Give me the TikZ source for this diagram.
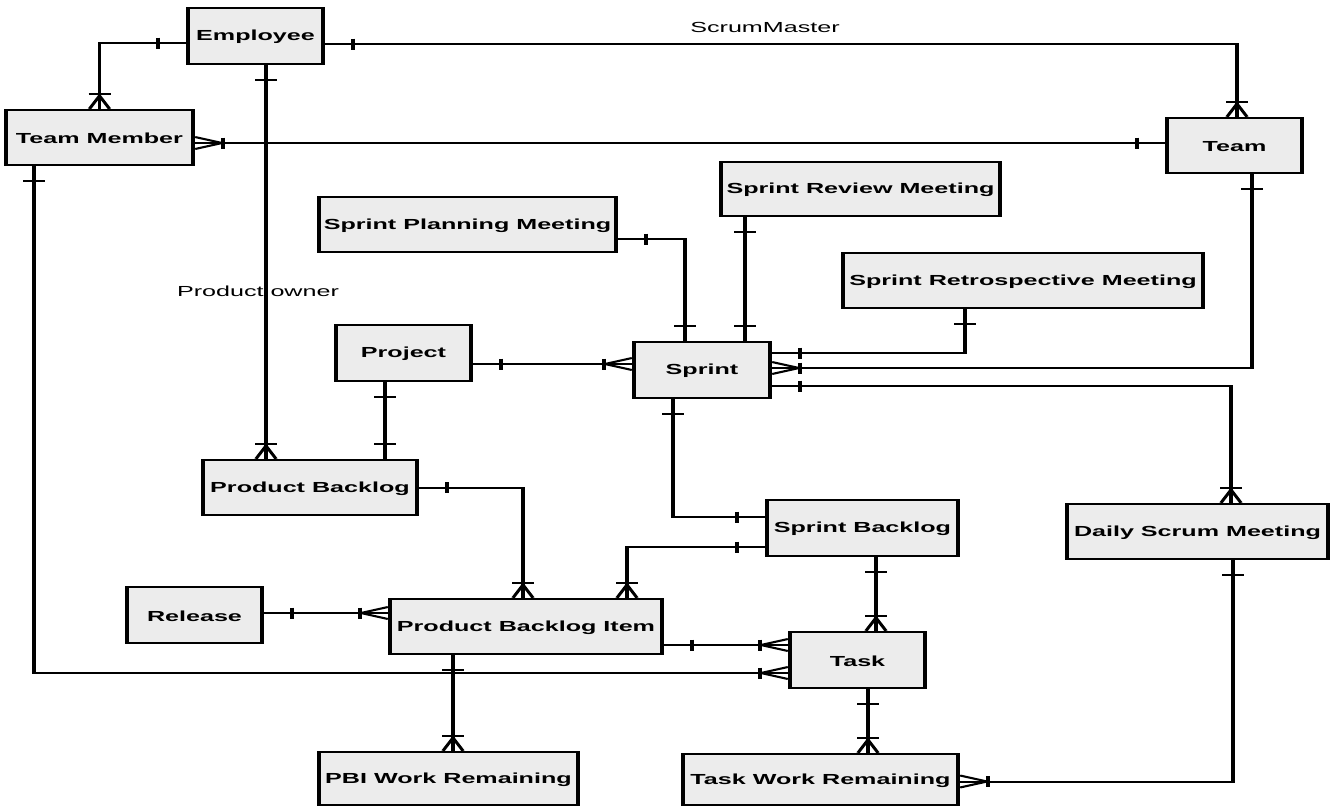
\documentclass[tikz,border=0pt]{standalone}
\usepackage{fontspec}
\setmainfont{Liberation Sans}
\usetikzlibrary{calc,fit}
\definecolor{boxfill}{RGB}{236,236,236}
\tikzset{
  ent/.style={draw=black, line width=2.4pt, fill=boxfill, inner sep=0pt},
  enttext/.style={inner sep=0pt, yshift=-1pt, font=\fontsize{14.6}{16}\selectfont\bfseries},
  conn/.style={line width=2pt},
  lbl/.style={font=\fontsize{14.6}{16}\selectfont, inner sep=0pt},
  mk/.style={line width=2pt},
  oneU/.pic={\draw[mk] (-11,-15) -- (11,-15);},
  oneD/.pic={\draw[mk] (-11,15) -- (11,15);},
  oneL/.pic={\draw[mk] (-28,-5.5) -- (-28,5.5);},
  oneR/.pic={\draw[mk] (28,-5.5) -- (28,5.5);},
  manyU/.pic={\draw[mk] (-10,0) -- (0,-13) -- (10,0); \draw[mk] (-11,-15) -- (11,-15);},
  manyD/.pic={\draw[mk] (-10,0) -- (0,13) -- (10,0); \draw[mk] (-11,15) -- (11,15);},
  manyL/.pic={\draw[mk] (0,-6) -- (-27,0) -- (0,6); \draw[mk] (-28,-5.5) -- (-28,5.5);},
  manyR/.pic={\draw[mk] (0,-6) -- (27,0) -- (0,6); \draw[mk] (28,-5.5) -- (28,5.5);}
}
\begin{document}
\begin{tikzpicture}[x=1pt,y=-1pt]
\fill[white] (0,0) rectangle (1330,807);
\useasboundingbox (0,0) rectangle (1330,807);
\begin{scope}[x=0.581395pt, transform canvas={xscale=1.72}]
  % entities
  \node[ent, fit={(188,8) (323,64)}, label={[enttext]center:Employee}] (emp) {};
  \node[ent, fit={(6,110) (193,165)}, label={[enttext]center:Team Member}] (tm) {};
  \node[ent, fit={(1167,118) (1302,173)}, label={[enttext]center:Team}] (team) {};
  \node[ent, fit={(721,162) (1000,216)}, label={[enttext]center:Sprint Review Meeting}] (srm) {};
  \node[ent, fit={(319,197) (616,252)}, label={[enttext]center:Sprint Planning Meeting}] (spm) {};
  \node[ent, fit={(843,253) (1203,308)}, label={[enttext]center:Sprint Retrospective Meeting}] (sretro) {};
  \node[ent, fit={(336,325) (471,381)}, label={[enttext]center:Project}] (proj) {};
  \node[ent, fit={(634,342) (770,398)}, label={[enttext]center:Sprint}] (spr) {};
  \node[ent, fit={(203,460) (417,515)}, label={[enttext]center:Product Backlog}] (pb) {};
  \node[ent, fit={(767,500) (958,556)}, label={[enttext]center:Sprint Backlog}] (sb) {};
  \node[ent, fit={(1067,504) (1328,559)}, label={[enttext]center:Daily Scrum Meeting}] (dsm) {};
  \node[ent, fit={(127,587) (262,643)}, label={[enttext]center:Release}] (rel) {};
  \node[ent, fit={(390,599) (662,654)}, label={[enttext]center:Product Backlog Item}] (pbi) {};
  \node[ent, fit={(790,632) (925,688)}, label={[enttext]center:Task}] (task) {};
  \node[ent, fit={(319,752) (578,805)}, label={[enttext]center:PBI Work Remaining}] (pbiwr) {};
  \node[ent, fit={(683,754) (958,805)}, label={[enttext]center:Task Work Remaining}] (twr) {};

  % labels
  \node[lbl] (smlbl) at (765,27) {ScrumMaster};
  \node[lbl] (polbl) at (258,291) {Product owner};

  % connectors
  % Employee - Team Member
  \draw[conn] ($(emp.west)+(0,7)$) -| (tm.north);
  \pic at ($(emp.west)+(0,7)$) {oneL};
  \pic at (tm.north) {manyU};
  % Employee - Team (ScrumMaster)
  \draw[conn] ($(emp.east)+(0,8)$) -| ($(team.north)+(2.5,0)$);
  \pic at ($(emp.east)+(0,8)$) {oneR};
  \pic at ($(team.north)+(2.5,0)$) {manyU};
  % Employee - Product Backlog (Product owner)
  \draw[conn] ($(emp.south)+(10.5,0)$) -- ($(pb.north)+(-44,0)$);
  \pic at ($(emp.south)+(10.5,0)$) {oneD};
  \pic at ($(pb.north)+(-44,0)$) {manyU};
  % Team Member - Team
  \draw[conn] ($(tm.east)+(0,5.5)$) -- ($(team.west)+(0,-2.5)$);
  \pic at ($(tm.east)+(0,5.5)$) {manyR};
  \pic at ($(team.west)+(0,-2.5)$) {oneL};
  % Team Member - Task
  \draw[conn] ($(tm.south)+(-65.5,0)$) |- ($(task.west)+(0,13)$);
  \pic at ($(tm.south)+(-65.5,0)$) {oneD};
  \pic at ($(task.west)+(0,13)$) {manyL};
  % Sprint Planning Meeting - Sprint
  \draw[conn] ($(spm.east)+(0,14.5)$) -| ($(spr.north)+(-17,0)$);
  \pic at ($(spm.east)+(0,14.5)$) {oneR};
  \pic at ($(spr.north)+(-17,0)$) {oneU};
  % Sprint Review Meeting - Sprint
  \draw[conn] ($(srm.south)+(-115.5,0)$) -- ($(spr.north)+(43,0)$);
  \pic at ($(srm.south)+(-115.5,0)$) {oneD};
  \pic at ($(spr.north)+(43,0)$) {oneU};
  % Sprint Retrospective Meeting - Sprint
  \draw[conn] ($(sretro.south)+(-58,0)$) |- ($(spr.east)+(0,-17)$);
  \pic at ($(sretro.south)+(-58,0)$) {oneD};
  \pic at ($(spr.east)+(0,-17)$) {oneR};
  % Team - Sprint
  \draw[conn] ($(team.south)+(17.5,0)$) |- ($(spr.east)+(0,-2)$);
  \pic at ($(team.south)+(17.5,0)$) {oneD};
  \pic at ($(spr.east)+(0,-2)$) {manyR};
  % Sprint - Daily Scrum Meeting
  \draw[conn] ($(spr.east)+(0,16)$) -| ($(dsm.north)+(33.5,0)$);
  \pic at ($(spr.east)+(0,16)$) {oneR};
  \pic at ($(dsm.north)+(33.5,0)$) {manyU};
  % Project - Sprint
  \draw[conn] ($(proj.east)+(0,11)$) -- ($(spr.west)+(0,-6)$);
  \pic at ($(proj.east)+(0,11)$) {oneR};
  \pic at ($(spr.west)+(0,-6)$) {manyL};
  % Project - Product Backlog
  \draw[conn] ($(proj.south)+(-18.5,0)$) -- ($(pb.north)+(75,0)$);
  \pic at ($(proj.south)+(-18.5,0)$) {oneD};
  \pic at ($(pb.north)+(75,0)$) {oneU};
  % Sprint - Sprint Backlog
  \draw[conn] ($(spr.south)+(-29,0)$) |- ($(sb.west)+(0,-11)$);
  \pic at ($(spr.south)+(-29,0)$) {oneD};
  \pic at ($(sb.west)+(0,-11)$) {oneL};
  % Sprint Backlog - Product Backlog Item
  \draw[conn] ($(sb.west)+(0,19)$) -| ($(pbi.north)+(101,0)$);
  \pic at ($(sb.west)+(0,19)$) {oneL};
  \pic at ($(pbi.north)+(101,0)$) {manyU};
  % Product Backlog - Product Backlog Item
  \draw[conn] (pb.east) -| ($(pbi.north)+(-3,0)$);
  \pic at (pb.east) {oneR};
  \pic at ($(pbi.north)+(-3,0)$) {manyU};
  % Release - Product Backlog Item
  \draw[conn] ($(rel.east)+(0,-2)$) -- ($(pbi.west)+(0,-13.5)$);
  \pic at ($(rel.east)+(0,-2)$) {oneR};
  \pic at ($(pbi.west)+(0,-13.5)$) {manyL};
  % Product Backlog Item - Task
  \draw[conn] ($(pbi.east)+(0,18.5)$) -- ($(task.west)+(0,-15)$);
  \pic at ($(pbi.east)+(0,18.5)$) {oneR};
  \pic at ($(task.west)+(0,-15)$) {manyL};
  % Sprint Backlog - Task
  \draw[conn] ($(sb.south)+(13.5,0)$) -- ($(task.north)+(18.5,0)$);
  \pic at ($(sb.south)+(13.5,0)$) {oneD};
  \pic at ($(task.north)+(18.5,0)$) {manyU};
  % Product Backlog Item - PBI Work Remaining
  \draw[conn] ($(pbi.south)+(-73,0)$) -- ($(pbiwr.north)+(4.5,0)$);
  \pic at ($(pbi.south)+(-73,0)$) {oneD};
  \pic at ($(pbiwr.north)+(4.5,0)$) {manyU};
  % Task - Task Work Remaining
  \draw[conn] ($(task.south)+(10.5,0)$) -- ($(twr.north)+(47.5,0)$);
  \pic at ($(task.south)+(10.5,0)$) {oneD};
  \pic at ($(twr.north)+(47.5,0)$) {manyU};
  % Daily Scrum Meeting - Task Work Remaining
  \draw[conn] ($(dsm.south)+(35.5,0)$) |- ($(twr.east)+(0,2)$);
  \pic at ($(dsm.south)+(35.5,0)$) {oneD};
  \pic at ($(twr.east)+(0,2)$) {manyR};
\end{scope}
\end{tikzpicture}
\end{document}
